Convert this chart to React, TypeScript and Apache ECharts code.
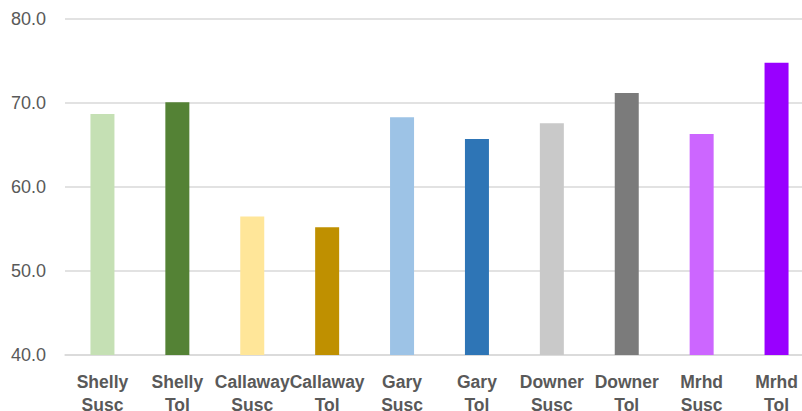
import React, { useEffect, useRef } from "react";
import * as echarts from "echarts";

const categories = [
  "Shelly\nSusc", "Shelly\nTol", "Callaway\nSusc", "Callaway\nTol", "Gary\nSusc",
  "Gary\nTol", "Downer\nSusc", "Downer\nTol", "Mrhd\nSusc", "Mrhd\nTol",
];
const values = [68.7, 70.1, 56.5, 55.2, 68.3, 65.7, 67.6, 71.2, 66.3, 74.8];
const colors = [
  "#c5e0b4", "#548235", "#ffe699", "#bf9000", "#9dc3e6",
  "#2e75b6", "#c9c9c9", "#7b7b7b", "#cc66ff", "#9900ff",
];

export default function App() {
  const ref = useRef<HTMLDivElement>(null);
  useEffect(() => {
    document.body.style.margin = "0";
    document.body.style.overflow = "hidden";
    const chart = echarts.init(ref.current!, undefined, { renderer: "svg" });
    chart.setOption({
      animation: false,
      grid: { left: 65, right: -12, top: 19, bottom: 56, outerBoundsMode: "none", containLabel: false },
      xAxis: {
        type: "category",
        data: categories,
        axisLine: { lineStyle: { color: "#d9d9d9", width: 1.5 } },
        axisTick: { show: false },
        axisLabel: {
          interval: 0,
          color: "#595959",
          fontWeight: "bold",
          fontSize: 17.5,
          fontFamily: "Liberation Sans",
          lineHeight: 23,
          margin: 15,
        },
      },
      yAxis: {
        type: "value",
        min: 40,
        max: 80,
        interval: 10,
        axisLine: { show: false },
        axisTick: { show: false },
        splitLine: { lineStyle: { color: "#d9d9d9", width: 1.5 } },
        axisLabel: {
          color: "#595959",
          fontSize: 18,
          fontFamily: "Liberation Sans",
          margin: 19,
          formatter: (v: number) => v.toFixed(1),
        },
      },
      series: [
        {
          type: "bar",
          barWidth: 24,
          data: values.map((v, i) => ({ value: v, itemStyle: { color: colors[i] } })),
        },
      ],
    });
    return () => chart.dispose();
  }, []);
  return (
    <div style={{ width: 802, height: 411, overflow: "hidden" }}>
      <div ref={ref} style={{ width: 802, height: 411 }} />
    </div>
  );
}
